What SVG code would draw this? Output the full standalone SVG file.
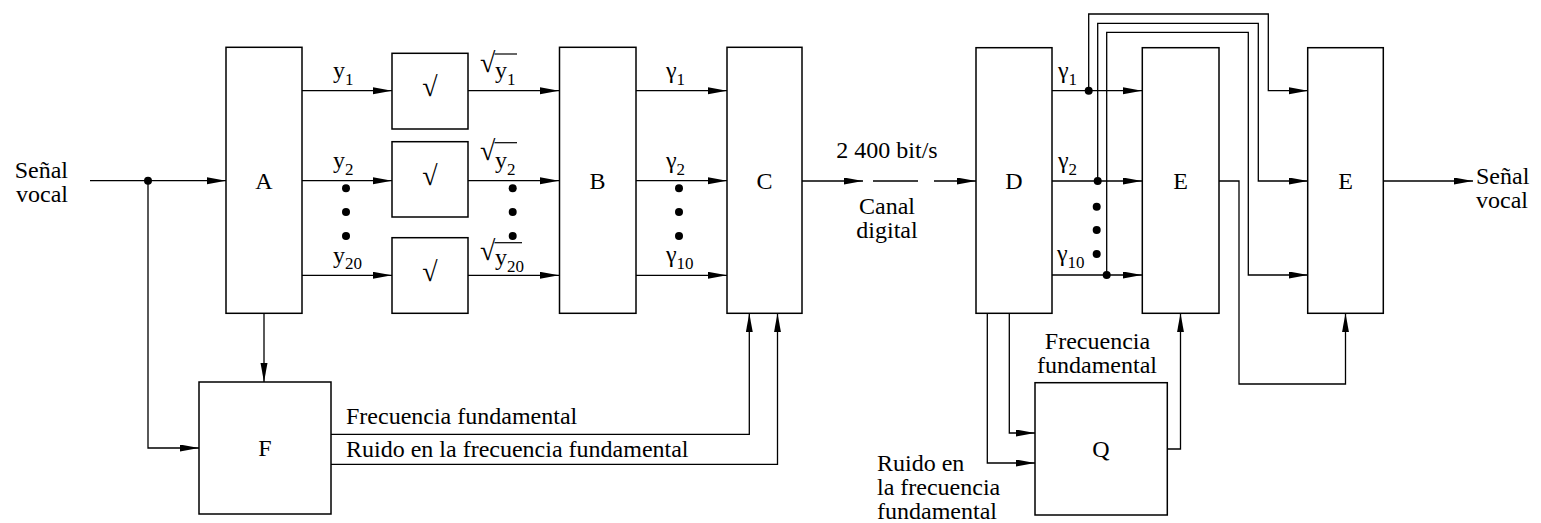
<svg xmlns="http://www.w3.org/2000/svg" width="1541" height="523" viewBox="0 0 1541 523" font-family="'Liberation Serif','Times New Roman',serif">
<style>
text{font-family:"Liberation Serif","Times New Roman",serif;font-size:24px;fill:#000}
.s{font-size:17px}
.rad{font-size:28px}
.mid{text-anchor:middle}
.box{fill:#fff;stroke:#000;stroke-width:1.5}
.w{fill:none;stroke:#000;stroke-width:1.3}
.a{marker-end:url(#ah)}
.dot{fill:#000}
.bar{stroke:#000;stroke-width:1.2}
</style>
<defs>
<marker id="ah" markerUnits="userSpaceOnUse" markerWidth="20" markerHeight="8" refX="19" refY="3.5" orient="auto">
<path d="M0,0 L19,3.5 L0,7 z" fill="#000"/>
</marker>
</defs>
<rect width="1541" height="523" fill="#fff"/>

<g id="connectors">
<path class="w a" d="M90,180.7 H226"/>
<path class="w a" d="M148,180.7 V448 H199"/>
<path class="w a" d="M264,313.3 V382"/>
<path class="w a" d="M302,90.7 H392"/>
<path class="w a" d="M302,180.7 H392"/>
<path class="w a" d="M302,275.3 H392"/>
<path class="w a" d="M468,90.7 H559"/>
<path class="w a" d="M468,180.7 H559"/>
<path class="w a" d="M468,275.3 H559"/>
<path class="w a" d="M636,90.7 H727"/>
<path class="w a" d="M636,180.7 H727"/>
<path class="w a" d="M636,275.3 H727"/>
<path class="w a" d="M331,434.3 H749.3 V313.3"/>
<path class="w a" d="M331,464.3 H777.5 V313.3"/>
<path class="w a" d="M802,181 H863"/>
<path class="w" d="M873,181 H918"/>
<path class="w a" d="M934,181 H976"/>
<path class="w a" d="M1052,90.7 H1142"/>
<path class="w a" d="M1052,181 H1142"/>
<path class="w a" d="M1052,275 H1142"/>
<path class="w a" d="M1088.7,90.7 V14 H1268.3 V90.7 H1308"/>
<path class="w a" d="M1097.7,181 V23.3 H1258.3 V181 H1308"/>
<path class="w a" d="M1106.7,275 V32.3 H1248.3 V275 H1308"/>
<path class="w a" d="M1219,181 H1239 V384 H1345.5 V313.3"/>
<path class="w a" d="M1383,181 H1473"/>
<path class="w a" d="M987.3,313.3 V463 H1035"/>
<path class="w a" d="M1009.3,313.3 V433 H1035"/>
<path class="w a" d="M1167,449 H1180.5 V313.3"/>
<circle class="dot" cx="148" cy="180.7" r="4"/>
<circle class="dot" cx="1088.7" cy="90.7" r="4"/>
<circle class="dot" cx="1097.7" cy="181" r="4"/>
<circle class="dot" cx="1106.7" cy="275" r="4"/>
<circle class="dot" cx="346" cy="188.3" r="4"/>
<circle class="dot" cx="346" cy="212" r="4"/>
<circle class="dot" cx="346" cy="236" r="4"/>
<circle class="dot" cx="512.7" cy="188.3" r="4"/>
<circle class="dot" cx="512.7" cy="212" r="4"/>
<circle class="dot" cx="512.7" cy="236" r="4"/>
<circle class="dot" cx="679" cy="188.3" r="4"/>
<circle class="dot" cx="679" cy="212" r="4"/>
<circle class="dot" cx="679" cy="236" r="4"/>
<circle class="dot" cx="1096.7" cy="206.7" r="4"/>
<circle class="dot" cx="1096.7" cy="230" r="4"/>
<circle class="dot" cx="1096.7" cy="254" r="4"/>
</g>

<g id="labels">
<text x="68" y="177.5" text-anchor="end">Señal</text>
<text x="68" y="201.5" text-anchor="end">vocal</text>
<text x="333" y="78">y<tspan class="s" dy="6.5">1</tspan></text>
<text x="333" y="168">y<tspan class="s" dy="6.5">2</tspan></text>
<text x="333" y="262.5">y<tspan class="s" dy="6.5">20</tspan></text>
<text class="rad" x="480" y="71.5">√</text><text x="495" y="78">y<tspan class="s" dy="6.5">1</tspan></text>
<line class="bar" x1="494.5" y1="54" x2="517" y2="54"/>
<text class="rad" x="480" y="160.2">√</text><text x="495" y="168">y<tspan class="s" dy="6.5">2</tspan></text>
<line class="bar" x1="494.5" y1="142.7" x2="517" y2="142.7"/>
<text class="rad" x="480" y="260.2">√</text><text x="495" y="265">y<tspan class="s" dy="6.5">20</tspan></text>
<line class="bar" x1="494.5" y1="242.7" x2="522" y2="242.7"/>
<text x="666" y="77.5">γ<tspan class="s" dy="7">1</tspan></text>
<text x="666" y="167.5">γ<tspan class="s" dy="7">2</tspan></text>
<text x="666" y="262">γ<tspan class="s" dy="7">10</tspan></text>
<text x="1058" y="77.5">γ<tspan class="s" dy="7">1</tspan></text>
<text x="1058" y="167.5">γ<tspan class="s" dy="7">2</tspan></text>
<text x="1057" y="261">γ<tspan class="s" dy="7">10</tspan></text>
<text class="mid" x="887" y="158">2 400 bit/s</text>
<text class="mid" x="887" y="214">Canal</text>
<text class="mid" x="887" y="238">digital</text>
<text x="346" y="424.3">Frecuencia fundamental</text>
<text x="346" y="456.7">Ruido en la frecuencia fundamental</text>
<text class="mid" x="1097.5" y="349">Frecuencia</text>
<text class="mid" x="1097" y="373">fundamental</text>
<text x="877" y="471">Ruido en</text>
<text x="877" y="495">la frecuencia</text>
<text x="877" y="519">fundamental</text>
<text x="1476" y="184">Señal</text>
<text x="1476" y="208">vocal</text>
</g>

<g id="A"><rect class="box" x="226" y="47.3" width="76" height="266"/><text class="mid" x="264" y="189">A</text></g>
<g id="R1"><rect class="box" x="392" y="53.3" width="76" height="75.7"/><text class="mid rad" x="430" y="96">√</text></g>
<g id="R2"><rect class="box" x="392" y="141.7" width="76" height="75.3"/><text class="mid rad" x="430" y="185">√</text></g>
<g id="R3"><rect class="box" x="392" y="237.7" width="76" height="75.6"/><text class="mid rad" x="430" y="281">√</text></g>
<g id="B"><rect class="box" x="559.5" y="47.3" width="76.5" height="266"/><text class="mid" x="597.5" y="189">B</text></g>
<g id="C"><rect class="box" x="727" y="47.3" width="75" height="266"/><text class="mid" x="764.5" y="189">C</text></g>
<g id="D"><rect class="box" x="976" y="47.7" width="76" height="265.6"/><text class="mid" x="1014" y="189">D</text></g>
<g id="E1"><rect class="box" x="1142.3" y="47.7" width="76.7" height="265.6"/><text class="mid" x="1180.5" y="189">E</text></g>
<g id="E2"><rect class="box" x="1307.7" y="47.7" width="75.6" height="265.6"/><text class="mid" x="1345.5" y="189">E</text></g>
<g id="F"><rect class="box" x="199" y="382" width="132" height="132"/><text class="mid" x="265" y="456">F</text></g>
<g id="Q"><rect class="box" x="1035" y="382.7" width="132.3" height="132.3"/><text class="mid" x="1101" y="457">Q</text></g>
</svg>
